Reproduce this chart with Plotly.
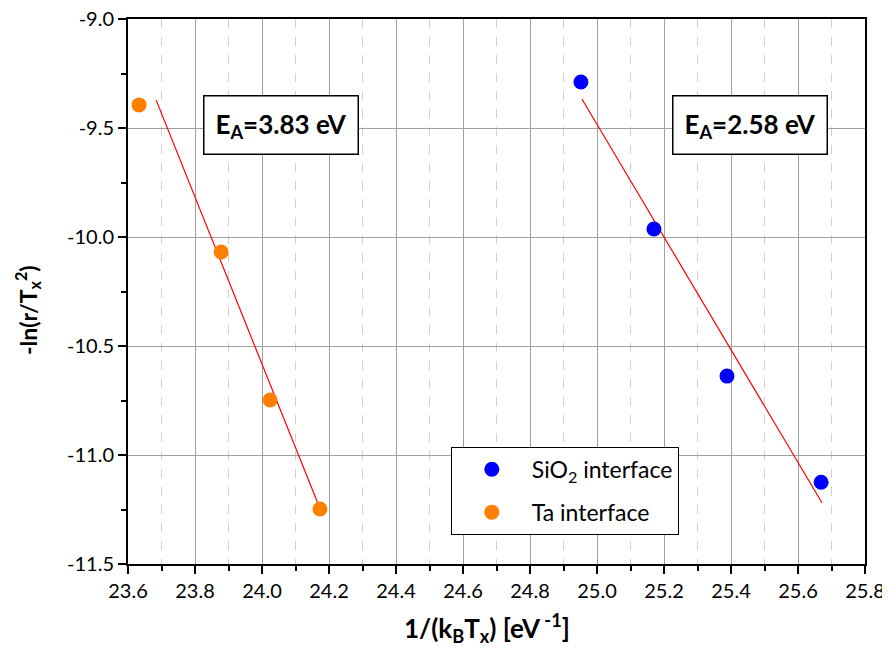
import plotly.graph_objects as go

# ---------- Data ----------
sio2_x = [24.952, 25.170, 25.388, 25.669]
sio2_y = [-9.289, -9.963, -10.638, -11.125]
ta_x = [23.633, 23.878, 24.024, 24.173]
ta_y = [-9.394, -10.069, -10.748, -11.248]

# linear fit lines (end points)
sio2_fit_x = [24.955, 25.672]
sio2_fit_y = [-9.367, -11.220]
ta_fit_x = [23.684, 24.170]
ta_fit_y = [-9.372, -11.234]

x_ticks = [23.6, 23.8, 24.0, 24.2, 24.4, 24.6, 24.8, 25.0, 25.2, 25.4, 25.6, 25.8]
y_ticks = [-9.0, -9.5, -10.0, -10.5, -11.0, -11.5]
y_labels = ["-9.0", "-9.5", "-10.0", "-10.5", "-11.0", "-11.5"]

FONT = "Lato, 'Noto Sans', sans-serif"

fig = go.Figure()

fig.add_trace(go.Scatter(x=ta_fit_x, y=ta_fit_y, mode="lines",
                         line=dict(color="red", width=1.2), showlegend=False))
fig.add_trace(go.Scatter(x=sio2_fit_x, y=sio2_fit_y, mode="lines",
                         line=dict(color="red", width=1.2), showlegend=False))

fig.add_trace(go.Scatter(x=sio2_x, y=sio2_y, mode="markers", name="SiO<sub>2</sub> interface",
                         legendgroup="a", marker=dict(color="#0000ff", size=15)))
fig.add_trace(go.Scatter(x=ta_x, y=ta_y, mode="markers", name="Ta interface",
                         legendgroup="b", marker=dict(color="#ff8000", size=15)))

# activation energy boxes
for xpos, label in [(24.057, "E<sub>A</sub>=3.83 eV"), (25.457, "E<sub>A</sub>=2.58 eV")]:
    fig.add_annotation(x=xpos, y=-9.486, text="<b>" + label + "</b>", showarrow=False,
                       font=dict(size=26, color="black", family=FONT),
                       bgcolor="white", bordercolor="black", borderwidth=1.5,
                       borderpad=11)

# axis titles (placed as annotations to match the original offsets)
fig.add_annotation(xref="paper", yref="paper", x=0.487, y=-0.117, showarrow=False,
                   xanchor="center", yanchor="middle",
                   text="<b>1/(k<sub>B</sub>T<sub>x</sub>) [eV<sup> -1</sup>]</b>",
                   font=dict(size=26, color="black", family=FONT))
fig.add_annotation(xref="paper", yref="paper", x=-0.137, y=0.466, showarrow=False,
                   xanchor="center", yanchor="middle", textangle=-90,
                   text="<b>-ln(r/T<sub>x</sub><sup>2</sup>)</b>",
                   font=dict(size=23, color="black", family=FONT))

fig.update_xaxes(
    range=[23.6, 25.8], tickvals=x_ticks, tickformat=".1f", automargin=False,
    ticklabeloverflow="allow",
    showline=True, linecolor="black", linewidth=2, mirror=True,
    ticks="outside", ticklen=8, tickwidth=2, tickcolor="black",
    showgrid=True, gridcolor="#a0a0a0", gridwidth=1,
    minor=dict(dtick=0.1, showgrid=True, gridcolor="#d0d0d0", griddash="dash",
               ticks="outside", ticklen=5, tickwidth=2, tickcolor="black"),
    tickfont=dict(size=20, color="black", family=FONT),
    zeroline=False,
)
fig.update_yaxes(
    range=[-11.5, -9.0], tickvals=y_ticks, ticktext=y_labels, automargin=False,
    ticklabeloverflow="allow",
    showline=True, linecolor="black", linewidth=2, mirror=True,
    ticks="outside", ticklen=8, tickwidth=2, tickcolor="black",
    showgrid=True, gridcolor="#a0a0a0", gridwidth=1,
    minor=dict(dtick=0.25, showgrid=False, ticks="outside", ticklen=5,
               tickwidth=2, tickcolor="black"),
    tickfont=dict(size=20, color="black", family=FONT),
    zeroline=False,
)

# page body has an 8px margin, so the figure is a bit smaller than the window
fig.update_layout(
    width=882, height=653,
    margin=dict(l=120, r=25, t=11, b=97),
    plot_bgcolor="white", paper_bgcolor="white",
    font=dict(family=FONT, color="black"),
    legend=dict(x=0.438, y=0.215, xanchor="left", yanchor="top",
                bgcolor="white", bordercolor="black", borderwidth=1,
                font=dict(size=23, color="black", family=FONT),
                itemwidth=70, tracegroupgap=10),
)

fig.write_html("out.html")
